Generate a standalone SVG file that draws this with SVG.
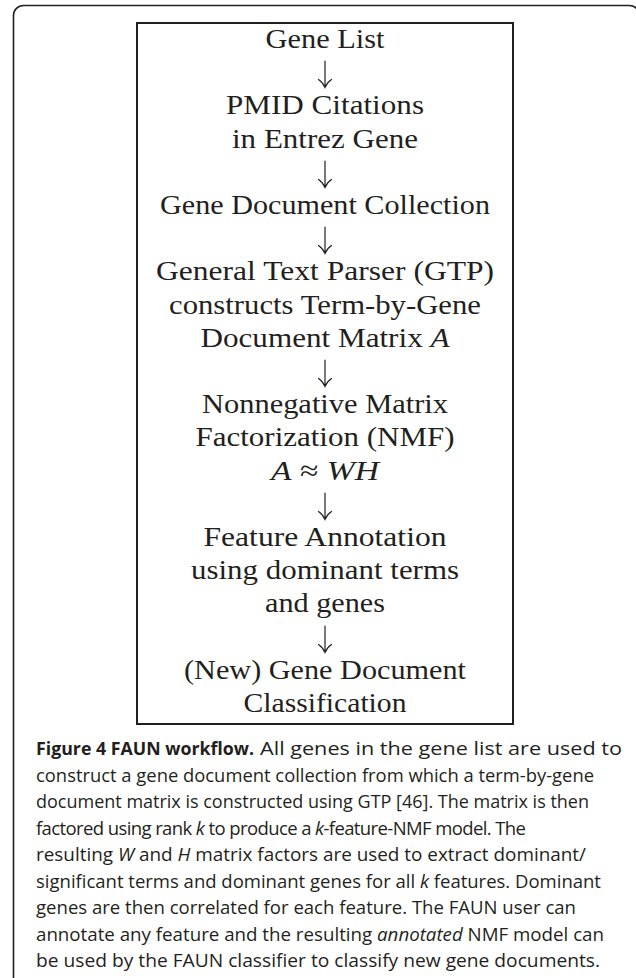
<svg xmlns="http://www.w3.org/2000/svg" width="636" height="978" viewBox="0 0 636 978">
<style>
.n{font-family:"Liberation Serif","DejaVu Serif",serif;font-size:28px;fill:#231f20;text-anchor:middle}
.i{font-style:italic}
.c{font-family:"Open Sans","Noto Sans","Liberation Sans",sans-serif;font-size:18.5px;fill:#231f20}
.b{font-weight:bold}
.ar{fill:none;stroke:#231f20;stroke-width:1.2;stroke-linecap:round}
</style>
<rect width="636" height="978" fill="#fff"/>
<rect x="13.5" y="5.5" width="626" height="1000" rx="10" fill="none" stroke="#231f20" stroke-width="1.6"/>
<rect id="box" x="137" y="23" width="376" height="701" fill="none" stroke="#231f20" stroke-width="2"/>
<g id="n1"><text class="n" x="325" y="48" textLength="119" lengthAdjust="spacingAndGlyphs">Gene List</text></g>
<g id="n2"><text class="n" x="325" y="114" textLength="198" lengthAdjust="spacingAndGlyphs">PMID Citations</text><text class="n" x="325" y="148" textLength="186" lengthAdjust="spacingAndGlyphs">in Entrez Gene</text></g>
<g id="n3"><text class="n" x="325" y="214" textLength="330" lengthAdjust="spacingAndGlyphs">Gene Document Collection</text></g>
<g id="n4"><text class="n" x="325" y="280" textLength="338" lengthAdjust="spacingAndGlyphs">General Text Parser (GTP)</text><text class="n" x="325" y="314" textLength="312" lengthAdjust="spacingAndGlyphs">constructs Term-by-Gene</text><text class="n" x="325" y="347" textLength="249" lengthAdjust="spacingAndGlyphs">Document Matrix <tspan class="i">A</tspan></text></g>
<g id="n5"><text class="n" x="325" y="413" textLength="246" lengthAdjust="spacingAndGlyphs">Nonnegative Matrix</text><text class="n" x="325" y="446" textLength="259" lengthAdjust="spacingAndGlyphs">Factorization (NMF)</text><text class="n" x="325" y="480" textLength="108" lengthAdjust="spacingAndGlyphs"><tspan class="i">A</tspan> ≈ <tspan class="i">WH</tspan></text></g>
<g id="n6"><text class="n" x="325" y="546" textLength="243" lengthAdjust="spacingAndGlyphs">Feature Annotation</text><text class="n" x="325" y="579" textLength="268" lengthAdjust="spacingAndGlyphs">using dominant terms</text><text class="n" x="325" y="612" textLength="120" lengthAdjust="spacingAndGlyphs">and genes</text></g>
<g id="n7"><text class="n" x="325" y="679" textLength="282" lengthAdjust="spacingAndGlyphs">(New) Gene Document</text><text class="n" x="325" y="712" textLength="163" lengthAdjust="spacingAndGlyphs">Classification</text></g>
<g id="connectors">
<path class="ar" d="M325,61V86M318.5,79.5Q322.5,82 325,87.5Q327.5,82 331.5,79.5"/>
<path class="ar" d="M325,161V186M318.5,179.5Q322.5,182 325,187.5Q327.5,182 331.5,179.5"/>
<path class="ar" d="M325,227V252M318.5,245.5Q322.5,248 325,253.5Q327.5,248 331.5,245.5"/>
<path class="ar" d="M325,360V385M318.5,378.5Q322.5,381 325,386.5Q327.5,381 331.5,378.5"/>
<path class="ar" d="M325,493V518M318.5,511.5Q322.5,514 325,519.5Q327.5,514 331.5,511.5"/>
<path class="ar" d="M325,626V651M318.5,644.5Q322.5,647 325,652.5Q327.5,647 331.5,644.5"/>
</g>
<g id="caption">
<text class="c b" x="36" y="755" textLength="218" lengthAdjust="spacingAndGlyphs">Figure 4 FAUN workflow.</text>
<text class="c" x="260" y="755" textLength="362" lengthAdjust="spacingAndGlyphs">All genes in the gene list are used to</text>
<text class="c" x="36" y="781.5" textLength="558" lengthAdjust="spacingAndGlyphs">construct a gene document collection from which a term-by-gene</text>
<text class="c" x="36" y="808" textLength="553" lengthAdjust="spacingAndGlyphs">document matrix is constructed using GTP [46]. The matrix is then</text>
<text class="c" x="36" y="834.5" textLength="490" lengthAdjust="spacing">factored using rank <tspan class="i">k</tspan> to produce a <tspan class="i">k</tspan>-feature-NMF model. The</text>
<text class="c" x="36" y="861" textLength="550" lengthAdjust="spacingAndGlyphs">resulting <tspan class="i">W</tspan> and <tspan class="i">H</tspan> matrix factors are used to extract dominant/</text>
<text class="c" x="36" y="887.5">significant terms and dominant genes for all <tspan class="i">k</tspan> features. Dominant</text>
<text class="c" x="36" y="914" textLength="540" lengthAdjust="spacingAndGlyphs">genes are then correlated for each feature. The FAUN user can</text>
<text class="c" x="36" y="940.5" textLength="568" lengthAdjust="spacingAndGlyphs">annotate any feature and the resulting <tspan class="i">annotated</tspan> NMF model can</text>
<text class="c" x="36" y="967" textLength="564" lengthAdjust="spacingAndGlyphs">be used by the FAUN classifier to classify new gene documents.</text>
</g>
</svg>
